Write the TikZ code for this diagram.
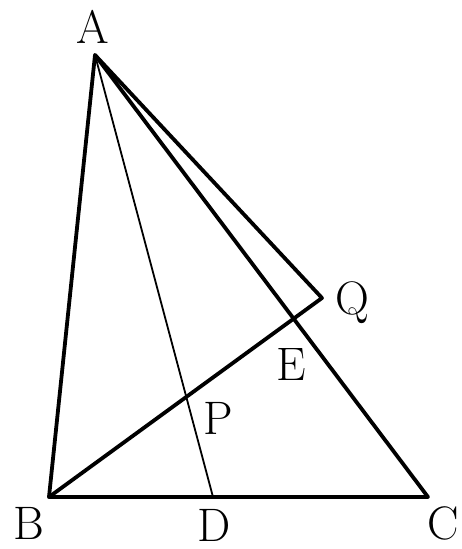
\documentclass[tikz,border=0pt]{standalone}
\begin{document}
\begin{tikzpicture}[x=1pt,y=-1pt,
  thickline/.style={line width=3.8pt,line join=round,line cap=round},
  thinline/.style={line width=1.8pt},
  lbl/.style={font=\fontsize{47}{47}\selectfont,inner sep=0pt,anchor=base}]
\useasboundingbox (0,0) rectangle (461,549);
\coordinate (A) at (95,55);
\coordinate (B) at (49,497);
\coordinate (C) at (428,497);
\coordinate (D) at (213,497);
\coordinate (Q) at (322,298);
\draw[thickline] (A) -- (B) -- (C) -- cycle;
\draw[thickline] (A) -- (Q) -- (B);
\draw[thinline] (A) -- (D);
\node[lbl] (lA) at (93,43) {A};
\node[lbl] (lB) at (29,539) {B};
\node[lbl] (lD) at (214,541) {D};
\node[lbl] (lC) at (443,539) {C};
\node[lbl] (lQ) at (352,314) {Q};
\node[lbl] (lE) at (291,380) {E};
\node[lbl] (lP) at (218,434) {P};
\end{tikzpicture}
\end{document}
